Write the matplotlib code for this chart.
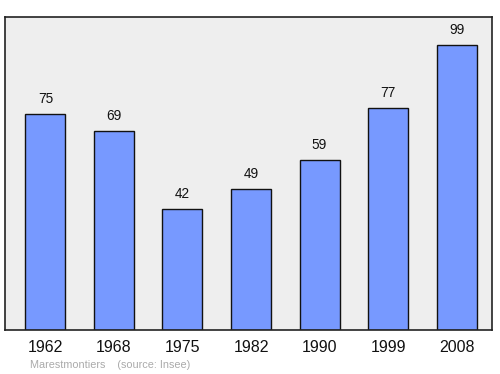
import matplotlib.pyplot as plt
import matplotlib

matplotlib.rc('font', family='Liberation Sans')

years = ['1962', '1968', '1975', '1982', '1990', '1999', '2008']
population = [75, 69, 42, 49, 59, 77, 99]
commune = "Marestmontiers"

fig = plt.figure(figsize=(5, 3.74), dpi=100)
ax = fig.add_axes([5/500, 1 - 330/374, 487/500, 313/374])
ax.set_facecolor('#eeeeee')

x = list(range(len(years)))
ax.bar(x, population, width=0.584, color='#7799ff', edgecolor='#111111', linewidth=1)
for xi, v in zip(x, population):
    ax.annotate(str(v), (xi, v), xytext=(0, 10.8), textcoords='offset points',
                ha='center', va='center', fontsize=9.8, color='#111111')

ax.set_xlim(-0.591, 6.518)
ax.set_ylim(0, 108.7)
ax.set_yticks([])
ax.set_xticks(x)
ax.set_xticklabels(years, fontsize=11.5, color='#111111')
ax.tick_params(axis='x', length=0, pad=7)
for s in ax.spines.values():
    s.set_color('#222222')
    s.set_linewidth(1.2)

fig.text(30/500, 1 - 365/374, commune + "    (source: Insee)", fontsize=7.8,
         color='#aaaaaa', va='center', ha='left')

fig.savefig('out.png', dpi=100)
